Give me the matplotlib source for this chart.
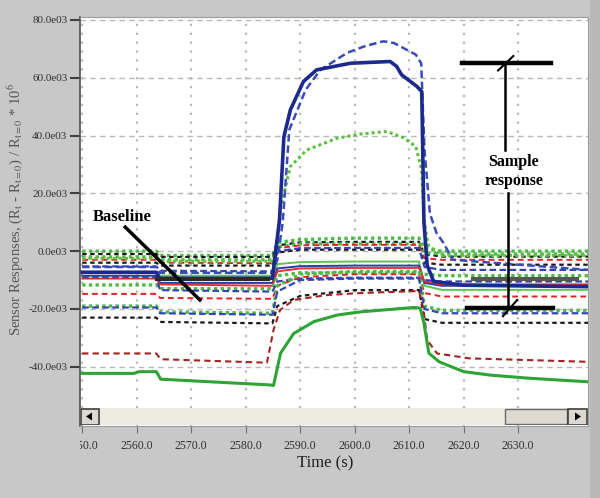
import matplotlib
matplotlib.use("Agg")
import matplotlib.pyplot as plt
from matplotlib.patches import Rectangle, Polygon
from matplotlib.transforms import Bbox, TransformedBbox

plt.rcParams['font.family'] = ['Liberation Serif', 'DejaVu Serif']
plt.rcParams['mathtext.fontset'] = 'stix'
plt.rcParams['axes.unicode_minus'] = False

# ---- data (values in units of 1e3) ----
x_ticks = [2550, 2560, 2570, 2580, 2590, 2600, 2610, 2620, 2630]
y_ticks = [-40, -20, 0, 20, 40, 60, 80]

# big responders
navy_t = [2550, 2563.6, 2564.2, 2584.9, 2585.5, 2586.2, 2587.0, 2588.2, 2590.6, 2593.0,
          2599.2, 2606.5, 2607.7, 2608.6, 2611.4, 2612.3, 2612.7, 2613.3, 2614.5, 2620, 2643]
navy_v = [-7.3, -7.3, -9.4, -9.4, 0.0, 10.8, 39.5, 48.9, 58.7, 62.7,
          65.0, 65.6, 63.9, 61.0, 57.0, 55.2, 10.0, -5.0, -10.5, -11.8, -12.3]

bdash_t = [2550, 2563.6, 2564.2, 2584.9, 2585.8, 2586.8, 2588.0, 2591.0, 2593.7, 2598.6,
           2602.0, 2605.3, 2607.2, 2611.2, 2612.2, 2612.8, 2613.8, 2615.0, 2616.3, 2618, 2643]
bdash_v = [-5.5, -5.5, -7.5, -7.5, -3.0, 10.0, 42.0, 55.8, 62.7, 68.6,
           71.0, 72.6, 72.0, 68.0, 65.0, 35.0, 13.0, 6.3, 2.8, -3.0, -6.5]

gdot_t = [2550, 2563.6, 2564.2, 2584.9, 2585.6, 2586.4, 2588.2, 2591.2, 2596.7, 2601.0,
          2605.9, 2609.0, 2611.2, 2612.3, 2612.7, 2613.5, 2616, 2643]
gdot_v = [-2.5, -2.5, -3.5, -3.5, 0.0, 15.0, 29.3, 35.0, 39.0, 40.5,
          41.4, 39.2, 36.2, 28.0, 10.8, 2.0, -1.5, -1.5]

gsol_t = [2550, 2559.5, 2560.5, 2563.6, 2564.4, 2584.5, 2585.1, 2586.4, 2588.8, 2592.5,
          2596.8, 2601.1, 2610.8, 2612.0, 2612.7, 2613.6, 2615.5, 2620, 2624.9, 2632.2, 2642.8]
gsol_v = [-42.3, -42.3, -41.7, -41.7, -44.3, -46.3, -46.5, -35.3, -28.5, -24.4,
          -22.1, -21.0, -19.5, -19.7, -24.9, -35.3, -38.3, -41.7, -42.9, -44.0, -45.2]

dred_t = [2550, 2563.6, 2564.4, 2583.9, 2585.1, 2586.3, 2588.8, 2594.9, 2601, 2611.8,
          2612.6, 2613.3, 2615.1, 2621, 2643]
dred_v = [-35.4, -35.4, -37.4, -38.6, -27.3, -20.4, -16.9, -15.2, -14.5, -13.8,
          -20.0, -30.8, -35.4, -37.1, -38.3]

# the crowded band of small responders, shared knot times
band_t = [2550, 2563.6, 2564.3, 2584.9, 2585.8, 2590, 2600, 2611.8, 2612.8, 2616, 2643]
band_names = ['g1', 'k1', 'g2', 'r1', 'k2', 'b1', 'gs', 'bs', 'rs', 'g3', 'b2', 'r2', 'g4', 'b3', 'k3']
band_kind = ['gdot', 'kdash', 'gdot', 'rdash', 'kdash', 'bdash', 'gline', 'bline', 'rline',
             'gdot', 'bdash', 'rdash', 'gdot', 'bdash', 'kdash']
band_v = [
    [0.0, 0.0, -1.5, -1.5, 3.0, 4.0, 4.5, 4.5, 1.0, 0.0, 0.0],
    [-1.0, -1.0, -2.0, -2.0, 2.0, 3.0, 3.2, 3.2, -1.0, -1.9, -1.9],
    [-2.0, -2.0, -3.0, -3.0, 1.5, 2.5, 2.5, 2.5, -0.5, -1.0, -1.0],
    [-3.0, -3.0, -4.0, -4.2, 1.0, 2.0, 2.2, 2.2, -2.5, -3.0, -3.0],
    [-4.0, -4.0, -5.0, -5.0, -0.5, 0.5, 0.5, 0.5, -4.0, -4.7, -4.7],
    [-5.3, -5.3, -6.8, -7.0, 0.0, 1.0, 1.1, 1.1, -5.5, -6.5, -6.5],
    [-7.5, -7.5, -8.5, -8.5, -4.5, -3.8, -3.6, -3.6, -12.0, -13.4, -13.4],
    [-8.5, -8.5, -11.0, -11.0, -6.0, -5.2, -5.0, -5.0, -11.0, -12.0, -12.0],
    [-9.5, -9.5, -11.5, -12.0, -7.0, -6.0, -5.8, -5.8, -10.5, -11.5, -11.5],
    [-11.7, -11.7, -13.0, -13.0, -8.5, -7.5, -7.5, -7.5, -8.0, -8.5, -8.5],
    [-9.0, -9.0, -13.5, -14.0, -10.5, -9.5, -9.2, -9.2, -10.0, -10.5, -10.5],
    [-14.8, -14.8, -16.2, -16.5, -12.0, -9.0, -8.0, -8.0, -14.5, -15.7, -15.7],
    [-19.0, -19.0, -21.0, -21.5, -12.0, -8.0, -7.0, -7.0, -19.0, -20.5, -20.5],
    [-19.5, -19.5, -21.5, -22.0, -14.0, -10.0, -9.5, -9.5, -20.0, -21.5, -21.5],
    [-23.0, -23.0, -24.5, -25.0, -19.0, -15.5, -13.5, -13.5, -23.5, -24.8, -24.8],
]

styles = {
    'gdot':  dict(color='#4cba44', lw=2.4, ls=(0, (1, 1))),
    'kdash': dict(color='#1a1a1a', lw=1.6, ls=(0, (2, 1.6))),
    'rdash': dict(color='#e02424', lw=1.4, ls=(0, (3, 2))),
    'bdash': dict(color='#3444b4', lw=1.6, ls=(0, (3, 1.5))),
    'gline': dict(color='#5ec454', lw=1.4, ls='-'),
    'bline': dict(color='#2a3aa8', lw=1.4, ls='-'),
    'rline': dict(color='#e03030', lw=1.4, ls='-'),
}

fig = plt.figure(figsize=(6, 4.98), dpi=100)
fig.patch.set_facecolor('#c8c8c8')
fig.patches.append(Rectangle((590 / 600, 0), 10 / 600, 1, transform=fig.transFigure,
                             facecolor='#b8b8b8', edgecolor='none', zorder=0))

ax = fig.add_axes([80 / 600, 72 / 498, 508 / 600, 409 / 498])
ax.set_facecolor('white')

for name, kind, vals in zip(band_names, band_kind, band_v):
    ax.plot(band_t, vals, zorder=2, **styles[kind])

ax.plot(dred_t, dred_v, color='#a52222', lw=1.5, ls=(0, (3, 2)), zorder=3)
ax.plot(gsol_t, gsol_v, color='#2ea336', lw=2.2, zorder=3)
ax.plot(gdot_t, gdot_v, color='#5cc040', lw=2.2, ls=(0, (1, 1)), zorder=3)
ax.plot(bdash_t, bdash_v, color='#3a4cb8', lw=1.8, ls=(0, (3, 1.5)), zorder=3)
ax.plot(navy_t, navy_v, color='#1c2a8e', lw=2.6, zorder=4)

ax.set_xlim(2549.6, 2642.8)
ax.set_ylim(-60.5, 81.0)

ax.set_yticks(y_ticks, [f"{v:.1f}e03" for v in y_ticks])
ax.set_xticks(x_ticks, [f"{v:.1f}" for v in x_ticks])
ax.tick_params(axis='y', direction='out', length=7, width=1.5, color='#404040',
               labelsize=8, labelcolor='#303030', pad=2)
ax.tick_params(axis='x', direction='out', length=5, width=0.8, color='#707070',
               labelsize=8.5, labelcolor='#303030', pad=5)

ax.grid(axis='y', color='#b8b8b8', lw=1.0, ls=(0, (4, 3)), zorder=1)
ax.grid(axis='x', color='#b8b8b8', lw=1.6, ls=(0, (1, 3)), zorder=1)
ax.set_axisbelow(True)
for side in ['top', 'right', 'bottom']:
    ax.spines[side].set_color('#9a9a9a')
ax.spines['left'].set_color('#505050')
ax.spines['left'].set_linewidth(1.2)

# clip first x tick label like the original window does
clip = TransformedBbox(Bbox([[80 / 600, 0], [1, 1]]), fig.transFigure)
first = ax.get_xticklabels()[0]
first.set_clip_box(clip)
first.set_clip_on(True)

# annotations
ax.text(2552.0, 11.8, 'Baseline', fontsize=12, fontweight='bold', va='center', ha='left', zorder=6)
ax.plot([2557.9, 2571.6], [8.3, -16.9], color='black', lw=2.5, zorder=6)
ax.plot([2563.7, 2584.0], [-9.7, -9.7], color='#2a2a2a', lw=3, zorder=5)
ax.plot([2621.7, 2640.8], [-9.7, -9.7], color='#555555', lw=3, zorder=5)

ax.plot([2619.7, 2636.0], [65.0, 65.0], color='black', lw=3.2, zorder=6)
ax.plot([2627.6, 2627.6], [65.0, 35.0], color='black', lw=1.8, zorder=6)
ax.plot([2626.3, 2629.1], [62.5, 67.5], color='black', lw=1.5, zorder=6)
ax.text(2629.2, 27.7, 'Sample\nresponse', fontsize=11.5, fontweight='bold', ha='center',
        va='center', linespacing=1.25, zorder=6)
ax.plot([2628.1, 2628.1], [20.1, -19.7], color='black', lw=1.8, zorder=6)
ax.plot([2620.6, 2636.4], [-19.7, -19.7], color='black', lw=3.2, zorder=6)
ax.plot([2627.2, 2629.8], [-22.5, -16.9], color='black', lw=1.5, zorder=6)

# scrollbar strip at the bottom of the plot window
sb = fig.add_axes([80 / 600, 73 / 498, 508 / 600, 17 / 498])
sb.set_xlim(0, 508)
sb.set_ylim(0, 17)
sb.axis('off')
sb.add_patch(Rectangle((0, 0), 508, 17, facecolor='#eeebe3', edgecolor='none'))
sb.add_patch(Rectangle((1, 0.5), 18, 16, facecolor='#dcd8d0', edgecolor='#404040', lw=1.2))
sb.add_patch(Polygon([[6, 8.5], [12, 4.5], [12, 12.5]], closed=True, facecolor='black'))
sb.add_patch(Rectangle((425, 0.8), 62, 15.4, facecolor='#dedad2', edgecolor='#6a6a6a', lw=1.0))
sb.add_patch(Rectangle((488, 0.5), 19, 16, facecolor='#dcd8d0', edgecolor='#404040', lw=1.2))
sb.add_patch(Polygon([[501, 8.5], [495, 4.5], [495, 12.5]], closed=True, facecolor='black'))

fig.text(15 / 600, 1 - 210 / 498,
         r"Sensor Responses, (R$_\mathrm{t}$ - R$_\mathrm{t=0}$) / R$_\mathrm{t=0}$ * 10$^6$",
         rotation=90, ha='center', va='center', fontsize=10.5, color='#555555')
fig.text(325 / 600, 1 - 463 / 498, 'Time (s)', ha='center', va='center', fontsize=12,
         color='#202020')

fig.savefig('out.png', dpi=100, facecolor=fig.get_facecolor())
